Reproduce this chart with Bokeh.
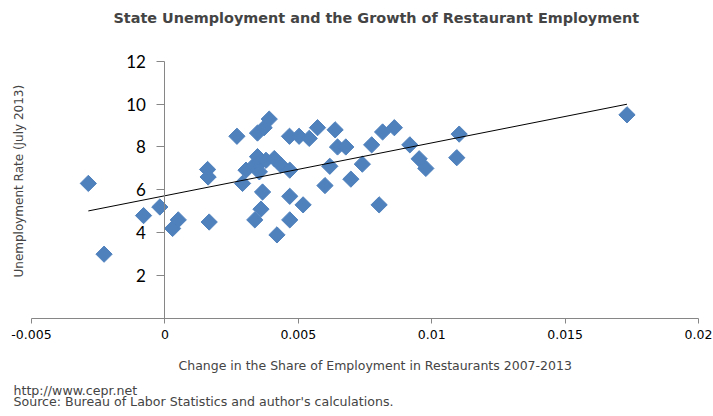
import numpy as np
from bokeh.plotting import figure
from bokeh.models import FixedTicker, Range1d, Title
from bokeh.embed import file_html
from bokeh.resources import INLINE

# Data (x: change in restaurant share, y: unemployment rate)
share_change = [
    -0.00287, -0.00228, -0.0008, -0.00019, 0.00029, 0.0005, 0.00166, 0.0016, 0.00162,
    0.0027, 0.00291,
    0.00304, 0.00335, 0.00347, 0.0036, 0.00354, 0.00379, 0.0041, 0.00435, 0.00468,
    0.00347, 0.00372, 0.00391, 0.00467, 0.00503, 0.00541, 0.00572, 0.00638, 0.00647, 0.00678,
    0.00366, 0.0036, 0.00337, 0.0042, 0.00468, 0.00518, 0.00468, 0.006, 0.00618,
    0.00697, 0.0074, 0.00775, 0.00816, 0.0086, 0.00918, 0.00953, 0.00978, 0.00803,
    0.01094, 0.01103, 0.01732,
]
unemployment = [
    6.3, 3.0, 4.8, 5.2, 4.2, 4.6, 4.5, 6.95, 6.6,
    8.5, 6.3,
    6.92, 7.15, 7.55, 7.3, 6.84, 7.38, 7.46, 7.15, 6.92,
    8.65, 8.9, 9.3, 8.5, 8.5, 8.4, 8.9, 8.8, 8.0, 8.0,
    5.9, 5.1, 4.6, 3.9, 5.7, 5.3, 4.6, 6.2, 7.1,
    6.5, 7.2, 8.1, 8.7, 8.9, 8.1, 7.45, 7.0, 5.3,
    7.5, 8.6, 9.5,
]
x_ticks = [-0.005, 0.0, 0.005, 0.01, 0.015, 0.02]
x_tick_labels = ["-0.005", "0", "0.005", "0.01", "0.015", "0.02"]
y_ticks = [2, 4, 6, 8, 10, 12]

title_text = "State Unemployment and the Growth of Restaurant Employment"
x_label = "Change in the Share of Employment in Restaurants 2007-2013"
y_label = "Unemployment Rate (July 2013)"
source_1 = "http://www.cepr.net"
source_2 = "Source: Bureau of Labor Statistics and author's calculations."

FONT = "DejaVu Sans"
BLUE = "#4F81BD"
AXIS_GRAY = "#868686"

p = figure(width=713, height=416, output_backend="svg", toolbar_location=None,
           x_range=Range1d(-0.005, 0.02), y_range=Range1d(0, 12.5),
           min_border_left=31, min_border_right=15, min_border_top=50, min_border_bottom=98)
p.title = None
p.outline_line_color = None
p.xgrid.visible = False
p.ygrid.visible = False
p.background_fill_color = "white"
p.border_fill_color = "white"

# spacer, then main title (outermost)
p.add_layout(Title(text=" ", text_font_size="1px", standoff=22), "above")
p.add_layout(Title(text=title_text, align="left", offset=82, text_font=FONT,
                   text_font_style="bold", text_font_size="14.4px", standoff=0), "above")

# x axis
p.xaxis.ticker = FixedTicker(ticks=x_ticks)
p.xaxis.major_label_overrides = dict(zip(x_ticks, x_tick_labels))
p.xaxis.minor_tick_line_color = None
p.xaxis.major_tick_in = 0
p.xaxis.major_tick_out = 5
p.xaxis.axis_line_color = AXIS_GRAY
p.xaxis.major_tick_line_color = AXIS_GRAY
p.xaxis.major_label_text_font = FONT
p.xaxis.major_label_text_font_size = "12.5px"
p.xaxis.major_label_text_color = "black"
p.xaxis.major_label_standoff = 6

# y axis crossing at x = 0
p.yaxis.fixed_location = 0
p.yaxis.bounds = (0, 12)
p.yaxis.ticker = FixedTicker(ticks=y_ticks)
p.yaxis.minor_tick_line_color = None
p.yaxis.major_tick_in = 0
p.yaxis.major_tick_out = 8
p.yaxis.axis_line_color = AXIS_GRAY
p.yaxis.major_tick_line_color = AXIS_GRAY
p.yaxis.major_label_text_font = "Lato"
p.yaxis.major_label_text_font_size = "17px"
p.yaxis.major_label_text_color = "black"
p.yaxis.major_label_standoff = 11

# axis titles and source notes
p.add_layout(Title(text=x_label, align="left", offset=147, text_font=FONT,
                   text_font_size="12.5px", text_font_style="normal", standoff=29), "below")
p.add_layout(Title(text=source_1, align="left", offset=-18, text_font=FONT,
                   text_font_size="12.6px", text_font_style="normal", standoff=-13), "below")
p.add_layout(Title(text=source_2, align="left", offset=-18, text_font=FONT,
                   text_font_size="12.6px", text_font_style="normal", standoff=1), "below")
p.add_layout(Title(text=y_label, align="left", offset=41, text_font=FONT,
                   text_font_size="12px", text_font_style="normal", standoff=11), "left")

# points
p.scatter(share_change, unemployment, marker="square", size=11.5, angle=np.pi / 4,
          fill_color=BLUE, line_color=BLUE)

# linear trendline
xs = np.array(share_change)
ys = np.array(unemployment)
slope, intercept = np.polyfit(xs, ys, 1)
tx = np.array([xs.min(), xs.max()])
p.line(tx, slope * tx + intercept, line_color="black", line_width=1)

open("out.html", "w").write(file_html(p, INLINE))
